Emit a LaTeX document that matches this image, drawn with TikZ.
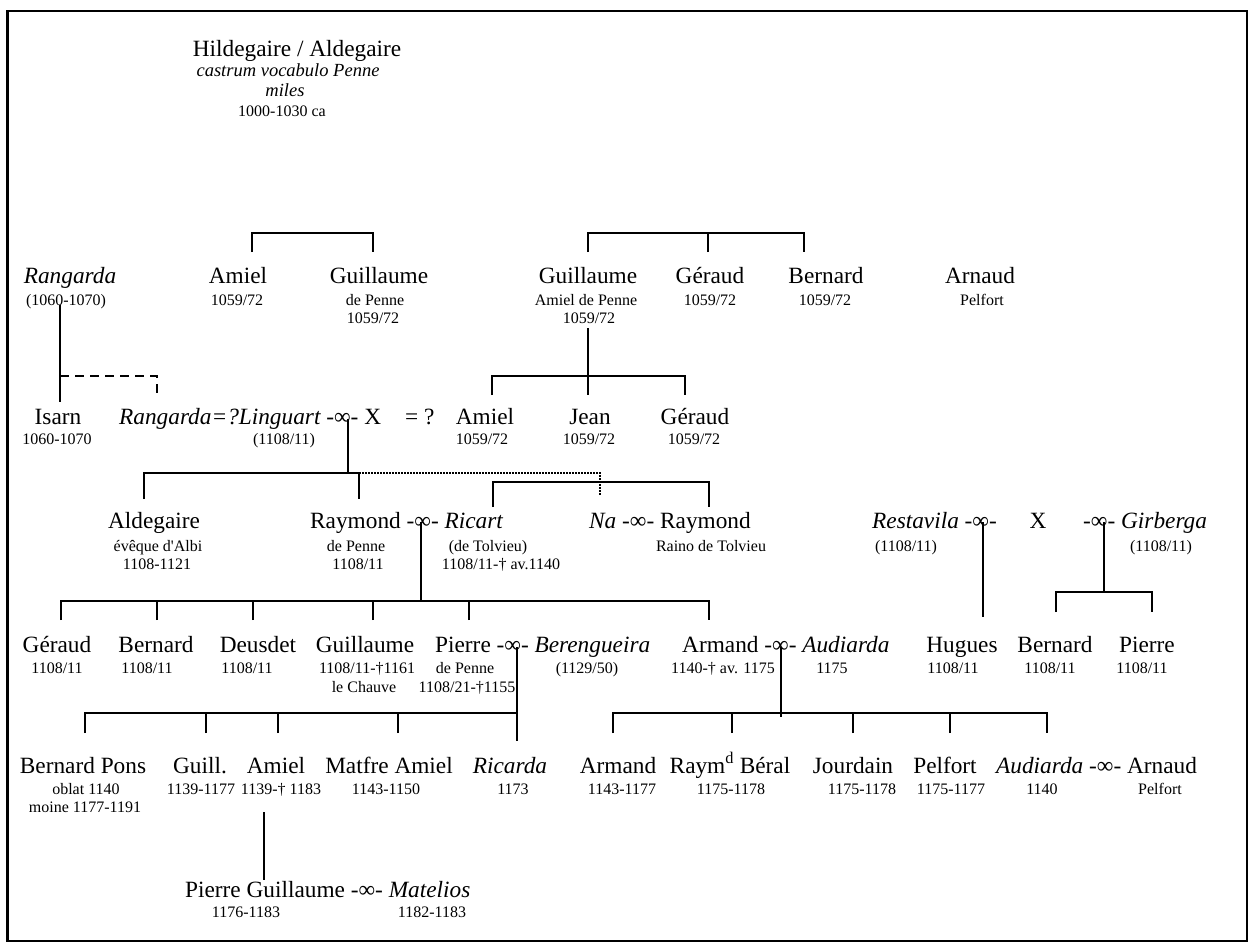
\documentclass[tikz,border=0pt]{standalone}
\usepackage{fontspec}
\setmainfont{Liberation Serif}
\newfontfamily\plainap{Liberation Serif}
\newcommand\ap{{\plainap '}}
\begin{document}
\begin{tikzpicture}[x=1pt,y=-1pt,
  nm/.style={inner sep=0pt,anchor=base,font=\fontsize{23.3}{27}\selectfont},
  nmw/.style={nm,anchor=base west},
  sb/.style={inner sep=0pt,anchor=base,font=\fontsize{16}{18}\selectfont},
  lt/.style={inner sep=0pt,anchor=base,font=\fontsize{18.5}{22}\selectfont\itshape},
  ln/.style={line width=2pt},
  dsh/.style={line width=2pt,dash pattern=on 9pt off 6pt},
  dot/.style={line width=1.3pt,dash pattern=on 1.5pt off 1.5pt}]
\useasboundingbox (0,0) rectangle (1253,947);
\draw[line width=2.8pt] (7.5,11) rectangle (1247,941);

% ---------- founder ----------
\node[nm] (hild) at (297,57) {Hildegaire / Aldegaire};
\node[lt] (hild-a) at (288,77) {castrum vocabulo Penne};
\node[lt] (hild-b) at (285,97) {miles};
\node[sb] (hild-c) at (282,117) {1000-1030 ca};

% ---------- generation 1 ----------
\node[nm] (rang) at (70,283) {\itshape Rangarda};
\node[sb] (rang-a) at (66,305) {(1060-1070)};
\node[nm] (amiel1) at (238,283) {Amiel};
\node[sb] (amiel1-a) at (237,305) {1059/72};
\node[nm] (guil1) at (379,283) {Guillaume};
\node[sb] (guil1-a) at (375,305) {de Penne};
\node[sb] (guil1-b) at (373,323) {1059/72};
\node[nm] (guil2) at (588,283) {Guillaume};
\node[sb] (guil2-a) at (586,305) {Amiel de Penne};
\node[sb] (guil2-b) at (589,323) {1059/72};
\node[nm] (ger1) at (710,283) {Géraud};
\node[sb] (ger1-a) at (710,305) {1059/72};
\node[nm] (bern1) at (826,283) {Bernard};
\node[sb] (bern1-a) at (825,305) {1059/72};
\node[nm] (arn1) at (980,283) {Arnaud};
\node[sb] (arn1-a) at (982,305) {Pelfort};

% ---------- generation 2 ----------
\node[nm] (isarn) at (58,424) {Isarn};
\node[sb] (isarn-a) at (57,444) {1060-1070};
\node[nmw] (ling) at (119,424) {{\itshape Rangarda=?Linguart} -∞- X\hspace{24pt}= ?};
\node[sb] (ling-a) at (284,444) {(1108/11)};
\node[nm] (amiel2) at (485,424) {Amiel};
\node[sb] (amiel2-a) at (482,444) {1059/72};
\node[nm] (jean) at (590,424) {Jean};
\node[sb] (jean-a) at (589,444) {1059/72};
\node[nm] (ger2) at (695,424) {Géraud};
\node[sb] (ger2-a) at (694,444) {1059/72};

% ---------- generation 3 ----------
\node[nm] (alde) at (154,528) {Aldegaire};
\node[sb] (alde-a) at (158,551) {évêque d\ap Albi};
\node[sb] (alde-b) at (157,569) {1108-1121};
\node[nmw] (raym) at (310,528) {Raymond -∞- {\itshape Ricart}};
\node[sb] (raym-a) at (356,551) {de Penne};
\node[sb] (raym-b) at (358,569) {1108/11};
\node[sb] (ric-a) at (488,551) {(de Tolvieu)};
\node[sb] (ric-b) at (501,569) {1108/11-† av.1140};
\node[nmw] (na) at (589,528) {{\itshape Na} -∞- Raymond};
\node[sb] (na-a) at (711,551) {Raino de Tolvieu};
\node[nmw] (rest) at (872,528) {{\itshape Restavila} -∞-};
\node[sb] (rest-a) at (906,551) {(1108/11)};
\node[nm] (xx) at (1038,528) {X};
\node[nmw] (girb) at (1083,528) {-∞- {\itshape Girberga}};
\node[sb] (girb-a) at (1161,551) {(1108/11)};

% ---------- generation 4 ----------
\node[nm] (ger3) at (57,652) {Géraud};
\node[sb] (ger3-a) at (57,673) {1108/11};
\node[nm] (bern3) at (156,652) {Bernard};
\node[sb] (bern3-a) at (147,673) {1108/11};
\node[nm] (deus) at (258,652) {Deusdet};
\node[sb] (deus-a) at (247,673) {1108/11};
\node[nm] (guil3) at (365,652) {Guillaume};
\node[sb] (guil3-a) at (367,673) {1108/11-†1161};
\node[sb] (guil3-b) at (364,692) {le Chauve};
\node[nmw] (pier) at (435,652) {Pierre -∞- {\itshape Berengueira}};
\node[sb] (pier-a) at (465,673) {de Penne};
\node[sb] (pier-b) at (467,692) {1108/21-†1155};
\node[sb] (bere-a) at (587,673) {(1129/50)};
\node[nmw] (arm) at (682,652) {Armand -∞- {\itshape Audiarda}};
\node[sb] (arm-a) at (723,673) {1140-† av. 1175};
\node[sb] (aud4-a) at (832,673) {1175};
\node[nm] (hug) at (962,652) {Hugues};
\node[sb] (hug-a) at (953,673) {1108/11};
\node[nm] (bern4) at (1055,652) {Bernard};
\node[sb] (bern4-a) at (1050,673) {1108/11};
\node[nm] (pier4) at (1147,652) {Pierre};
\node[sb] (pier4-a) at (1142,673) {1108/11};

% ---------- generation 5 ----------
\node[nm] (bp) at (83,773) {Bernard Pons};
\node[sb] (bp-a) at (86,794) {oblat 1140};
\node[sb] (bp-b) at (85,812) {moine 1177-1191};
\node[nm] (guill) at (200,773) {Guill.};
\node[sb] (guill-a) at (201,794) {1139-1177};
\node[nm] (amiel5) at (276,773) {Amiel};
\node[sb] (amiel5-a) at (281,794) {1139-† 1183};
\node[nm] (matf) at (389,773) {Matfre Amiel};
\node[sb] (matf-a) at (386,794) {1143-1150};
\node[nm] (rica) at (510,773) {\itshape Ricarda};
\node[sb] (rica-a) at (513,794) {1173};
\node[nm] (arm5) at (618,773) {Armand};
\node[sb] (arm5-a) at (622,794) {1143-1177};
\node[nm] (raymd) at (730,773) {Raym\textsuperscript{d} Béral};
\node[sb] (raymd-a) at (731,794) {1175-1178};
\node[nm] (jour) at (853,773) {Jourdain};
\node[sb] (jour-a) at (862,794) {1175-1178};
\node[nm] (pelf) at (945,773) {Pelfort};
\node[sb] (pelf-a) at (951,794) {1175-1177};
\node[nmw] (aud) at (996,773) {{\itshape Audiarda} -∞- Arnaud};
\node[sb] (aud-a) at (1042,794) {1140};
\node[sb] (arn5-a) at (1160,794) {Pelfort};

% ---------- generation 6 ----------
\node[nmw] (pg) at (185,897) {Pierre Guillaume -∞- {\itshape Matelios}};
\node[sb] (pg-a) at (246,917) {1176-1183};
\node[sb] (mat-a) at (432,917) {1182-1183};

% ---------- connectors ----------
% Amiel and Guillaume (de Penne)
\coordinate (k1a) at (252,252); \coordinate (k1b) at (373,252);
\coordinate (bar1) at (373,233);
\draw[ln] (k1a) |- (bar1) -- (k1b);
% Guillaume, Géraud, Bernard
\coordinate (k2a) at (588,252); \coordinate (k2b) at (708,252); \coordinate (k2c) at (804,252);
\coordinate (bar2) at (804,233);
\draw[ln] (k2a) |- (bar2) -- (k2c);
\draw[ln] (k2b) -- (k2b |- bar2);
% children of Guillaume Amiel de Penne
\coordinate (g2d) at (588,328);
\coordinate (k3a) at (492,395); \coordinate (k3b) at (588,395); \coordinate (k3c) at (685,395);
\coordinate (bar3) at (685,376);
\draw[ln] (g2d) -- (k3b);
\draw[ln] (k3a) |- (bar3) -- (k3c);
% Rangarda to Isarn, uncertain link to Rangarda=?Linguart
\coordinate (rg) at (60,305); \coordinate (is) at (60,402);
\coordinate (dj) at (60,376); \coordinate (dk) at (157,397);
\draw[ln] (rg) -- (is);
\draw[dsh] (dj) -| (dk);
% children of Linguart
\coordinate (mling) at (348,419);
\coordinate (k4a) at (144,499); \coordinate (k4b) at (359,499);
\coordinate (bar4) at (359,473);
\draw[ln] (mling) -- (mling |- bar4);
\draw[ln] (k4a) |- (bar4) -- (k4b);
\coordinate (dt) at (600,495);
\draw[dot] (bar4) -| (dt);
% Ricart and Raymond (Raino de Tolvieu)
\coordinate (k5a) at (493,507); \coordinate (k5b) at (709,507);
\coordinate (bar5) at (709,482);
\draw[ln] (k5a) |- (bar5) -- (k5b);
% children of Raymond and Ricart
\coordinate (mraym) at (421,522);
\coordinate (bar6) at (709,601);
\draw[ln] (mraym) -- (mraym |- bar6);
\coordinate (k6a) at (61,620); \coordinate (k6b) at (157,620); \coordinate (k6c) at (253,620);
\coordinate (k6d) at (373,620); \coordinate (k6e) at (469,620); \coordinate (k6f) at (709,620);
\draw[ln] (k6a) |- (bar6) -- (k6f);
\foreach \k in {k6b,k6c,k6d,k6e} \draw[ln] (\k) -- (\k |- bar6);
% Restavila to Hugues
\coordinate (mrest) at (983,522); \coordinate (hu) at (983,617);
\draw[ln] (mrest) -- (hu);
% Girberga to Bernard and Pierre
\coordinate (mgirb) at (1104,522);
\coordinate (k7a) at (1056,612); \coordinate (k7b) at (1152,612);
\coordinate (bar7) at (1152,592);
\draw[ln] (mgirb) -- (mgirb |- bar7);
\draw[ln] (k7a) |- (bar7) -- (k7b);
% children of Pierre and Berengueira
\coordinate (mpier) at (517,647); \coordinate (ri) at (517,741);
\coordinate (bar8) at (517,713);
\draw[ln] (mpier) -- (ri);
\coordinate (k8a) at (85,733); \coordinate (k8b) at (206,733);
\coordinate (k8c) at (278,733); \coordinate (k8d) at (398,733);
\draw[ln] (k8a) |- (bar8);
\foreach \k in {k8b,k8c,k8d} \draw[ln] (\k) -- (\k |- bar8);
% children of Armand and Audiarda
\coordinate (marm) at (781,647); \coordinate (ae) at (781,717);
\draw[ln] (marm) -- (ae);
\coordinate (bar9) at (1047,713);
\coordinate (k9a) at (613,733); \coordinate (k9b) at (732,733); \coordinate (k9c) at (853,733);
\coordinate (k9d) at (950,733); \coordinate (k9e) at (1047,733);
\draw[ln] (k9a) |- (bar9) -- (k9e);
\foreach \k in {k9b,k9c,k9d} \draw[ln] (\k) -- (\k |- bar9);
% Amiel to Pierre Guillaume
\coordinate (am) at (264,812); \coordinate (pgt) at (264,880);
\draw[ln] (am) -- (pgt);
\end{tikzpicture}
\end{document}
